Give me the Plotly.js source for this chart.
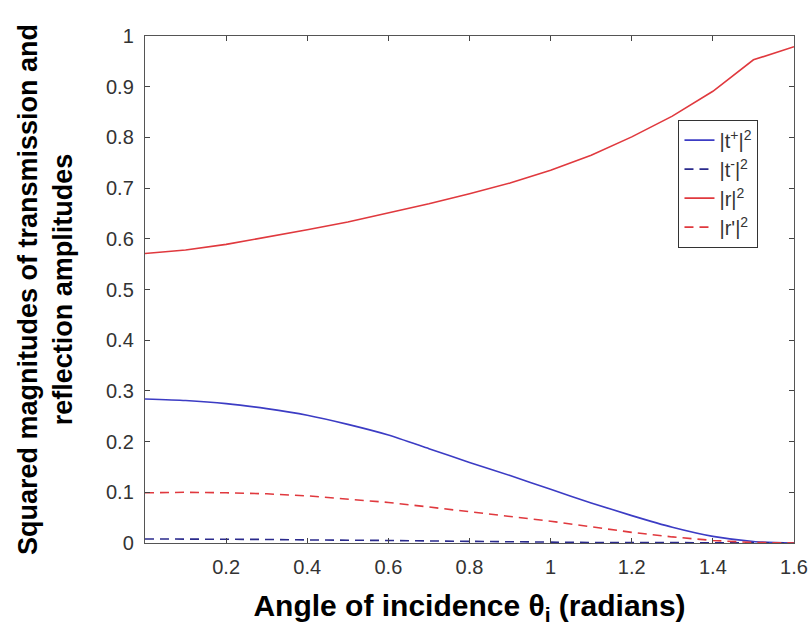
<!DOCTYPE html>
<html>
<head>
<meta charset="utf-8">
<script src="https://cdn.plot.ly/plotly-3.0.1.min.js"></script>
<style>html,body{margin:0;padding:0;background:#fff;}#plot{width:811px;height:635px;}</style>
</head>
<body>
<div id="plot"></div>
<script>
// Angle of incidence (radians)
var theta = [0, 0.1, 0.2, 0.3, 0.4, 0.5, 0.6, 0.7, 0.8, 0.9, 1.0, 1.1, 1.2, 1.3, 1.4, 1.5, 1.6];
// |t+|^2
var tPlus = [0.284, 0.281, 0.275, 0.265, 0.252, 0.234, 0.213, 0.186, 0.159, 0.133, 0.106, 0.079, 0.054, 0.031, 0.013, 0.003, 0.0];
// |t-|^2
var tMinus = [0.008, 0.008, 0.007, 0.007, 0.006, 0.006, 0.005, 0.004, 0.003, 0.003, 0.002, 0.001, 0.001, 0.0005, 0.0002, 0.0, 0.0];
// |r|^2
var rAmp = [0.571, 0.578, 0.589, 0.603, 0.618, 0.633, 0.651, 0.669, 0.689, 0.710, 0.735, 0.765, 0.801, 0.842, 0.891, 0.953, 0.979];
// |r'|^2
var rPrime = [0.099, 0.100, 0.099, 0.097, 0.093, 0.087, 0.080, 0.071, 0.062, 0.053, 0.043, 0.032, 0.021, 0.012, 0.005, 0.001, 0.0];

var xTicks = [0.2, 0.4, 0.6, 0.8, 1.0, 1.2, 1.4, 1.6];
var xTickText = ["0.2", "0.4", "0.6", "0.8", "1", "1.2", "1.4", "1.6"];
var yTicks = [0, 0.1, 0.2, 0.3, 0.4, 0.5, 0.6, 0.7, 0.8, 0.9, 1];
var yTickText = ["0", "0.1", "0.2", "0.3", "0.4", "0.5", "0.6", "0.7", "0.8", "0.9", "1"];

var blue = '#3c3cc4', navy = '#2a2a8c', red = '#e0393e';
var traces = [
  {x: theta, y: tPlus, name: '|t<sup>+</sup>|<sup>2</sup>', mode: 'lines', line: {color: blue, width: 1.6, shape: 'spline', smoothing: 0.6}},
  {x: theta, y: tMinus, name: '|t<sup>-</sup>|<sup>2</sup>', mode: 'lines', line: {color: navy, width: 1.6, dash: '9px,6px'}},
  {x: theta, y: rAmp, name: '|r|<sup>2</sup>', mode: 'lines', line: {color: red, width: 1.6}},
  {x: theta, y: rPrime, name: "|r'|<sup>2</sup>", mode: 'lines', line: {color: red, width: 1.6, dash: '9px,6px'}}
];

var axisCommon = {
  showgrid: false, zeroline: false, showline: true, linecolor: '#555', linewidth: 1.2,
  mirror: 'ticks', ticks: 'inside', ticklen: 5, tickcolor: '#444', tickwidth: 1,
  tickfont: {family: 'Liberation Sans, Arial, sans-serif', size: 20, color: '#333'}
};

var layout = {
  width: 811, height: 635,
  margin: {l: 145, r: 17, t: 36, b: 92},
  paper_bgcolor: '#fff', plot_bgcolor: '#fff',
  showlegend: true,
  legend: {
    x: 0.822, y: 0.835, xanchor: 'left', yanchor: 'top',
    bordercolor: '#333', borderwidth: 1, bgcolor: '#fff',
    font: {family: 'Liberation Sans, Arial, sans-serif', size: 20, color: '#333'},
    itemwidth: 30, tracegroupgap: 0
  },
  xaxis: Object.assign({}, axisCommon, {
    range: [0, 1.6], tickvals: xTicks, ticktext: xTickText, ticklabelstandoff: 6,
    title: {text: 'Angle of incidence θ<sub>i</sub> (radians)', standoff: 17,
      font: {family: 'Liberation Sans, Arial, sans-serif', size: 30, color: '#000', weight: 'bold'}}
  }),
  yaxis: Object.assign({}, axisCommon, {
    range: [0, 1], tickvals: yTicks, ticktext: yTickText, ticklabelstandoff: 6,
    title: {text: 'Squared magnitudes of transmission and<br>reflection amplitudes', standoff: 25,
      font: {family: 'Liberation Sans, Arial, sans-serif', size: 27, color: '#000', weight: 'bold'}}
  })
};

Plotly.newPlot('plot', traces, layout, {displayModeBar: false, staticPlot: true});
</script>
</body>
</html>
